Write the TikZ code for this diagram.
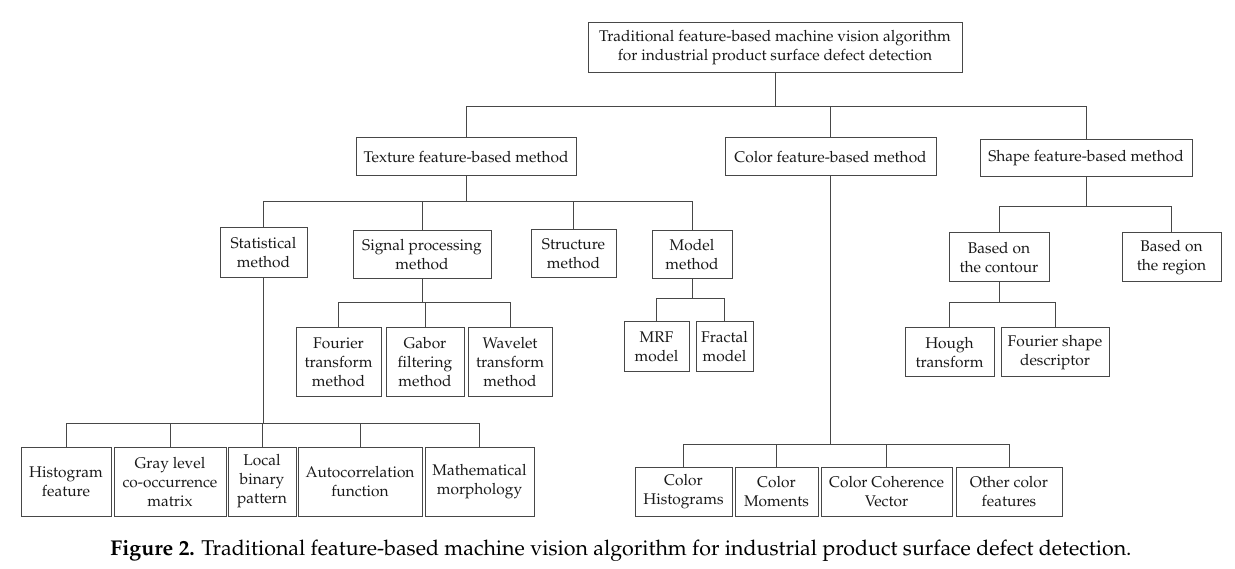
\documentclass[tikz,border=0pt]{standalone}
\usepackage[T1]{fontenc}
\usepackage{mathpazo}
\begin{document}
\begin{tikzpicture}[x=1pt,y=-1pt,
  box/.style={draw=black!72, line width=1pt, rectangle, inner sep=0pt, align=center,
    font=\fontsize{15.5}{19}\selectfont, text=black!90},
  conn/.style={draw=black!72, line width=1pt}]
\useasboundingbox (0,0) rectangle (1235,569);
% root
\node[box, minimum width=374, minimum height=50] (root) at (775,48) {Traditional feature-based machine vision algorithm\\for industrial product surface defect detection};
% level 1
\node[box, minimum width=220, minimum height=38] (tex) at (466,157) {Texture feature-based method};
\node[box, minimum width=211, minimum height=38] (col) at (830.5,157) {Color feature-based method};
\node[box, minimum width=212, minimum height=37] (shp) at (1086,158.5) {Shape feature-based method};
% texture children
\node[box, minimum width=87, minimum height=50] (stat) at (263.5,253) {Statistical\\method};
\node[box, minimum width=138, minimum height=48] (sig) at (422,255) {Signal processing\\method};
\node[box, minimum width=85, minimum height=48] (str) at (573.5,254) {Structure\\method};
\node[box, minimum width=80, minimum height=48] (mod) at (692,255) {Model\\method};
% signal children
\node[box, minimum width=85, minimum height=69] (four) at (338.5,362.5) {Fourier\\transform\\method};
\node[box, minimum width=78, minimum height=69] (gab) at (425,362.5) {Gabor\\filtering\\method};
\node[box, minimum width=84, minimum height=69] (wav) at (510,362.5) {Wavelet\\transform\\method};
% model children
\node[box, minimum width=65, minimum height=50] (mrf) at (656.5,347) {MRF\\model};
\node[box, minimum width=57, minimum height=50] (frac) at (724.5,347) {Fractal\\model};
% statistical children
\node[box, minimum width=90, minimum height=69] (hist) at (66,481.5) {Histogram\\feature};
\node[box, minimum width=112, minimum height=69] (gray) at (170,481.5) {Gray level\\co-occurrence\\matrix};
\node[box, minimum width=68, minimum height=69] (lbp) at (262,481.5) {Local\\binary\\pattern};
\node[box, minimum width=124, minimum height=69] (auto) at (360,481.5) {Autocorrelation\\function};
\node[box, minimum width=109, minimum height=69] (math) at (479.5,481.5) {Mathematical\\morphology};
% color children
\node[box, minimum width=97, minimum height=49] (chist) at (683.5,491.5) {Color\\Histograms};
\node[box, minimum width=83, minimum height=49] (cmom) at (776.5,491.5) {Color\\Moments};
\node[box, minimum width=131, minimum height=49] (ccv) at (886.5,491.5) {Color Coherence\\Vector};
\node[box, minimum width=106, minimum height=49] (cother) at (1009,491.5) {Other color\\features};
% shape children
\node[box, minimum width=100, minimum height=49] (cont) at (999,257.5) {Based on\\the contour};
\node[box, minimum width=99, minimum height=49] (reg) at (1171.5,257.5) {Based on\\the region};
\node[box, minimum width=89, minimum height=49] (hough) at (949.5,352.5) {Hough\\transform};
\node[box, minimum width=108, minimum height=49] (fsd) at (1055,352.5) {Fourier shape\\descriptor};
% bus coordinates
\coordinate (b0) at (0,107);
\coordinate (b1) at (0,202);
\coordinate (b1s) at (0,207);
\coordinate (b2) at (0,303);
\coordinate (b3) at (0,299);
\coordinate (b4) at (0,423);
\coordinate (b5) at (0,444);
\coordinate (b6) at (0,303);
% connectors
\foreach \c in {tex,col,shp} \draw[conn] (root.south) -- (root.south |- b0) -| (\c.north);
\foreach \c in {stat,sig,str,mod} \draw[conn] (tex.south) -- (tex.south |- b1) -| (\c.north);
\foreach \c in {four,gab,wav} \draw[conn] (sig.south) -- (sig.south |- b2) -| (\c.north);
\foreach \c in {mrf,frac} \draw[conn] (mod.south) -- (mod.south |- b3) -| (\c.north);
\foreach \c in {hist,gray,lbp,auto,math} \draw[conn] (stat.south) -- (stat.south |- b4) -| (\c.north);
\foreach \c in {chist,cmom,ccv,cother} \draw[conn] (col.south) -- (col.south |- b5) -| (\c.north);
\foreach \c in {cont,reg} \draw[conn] (shp.south) -- (shp.south |- b1s) -| (\c.north);
\foreach \c in {hough,fsd} \draw[conn] (cont.south) -- (cont.south |- b6) -| (\c.north);
% caption
\node[font=\fontsize{21.4}{25}\selectfont, inner sep=0pt] (cap) at (621,551) {\textbf{Figure 2.} Traditional feature-based machine vision algorithm for industrial product surface defect detection.};
\end{tikzpicture}
\end{document}
